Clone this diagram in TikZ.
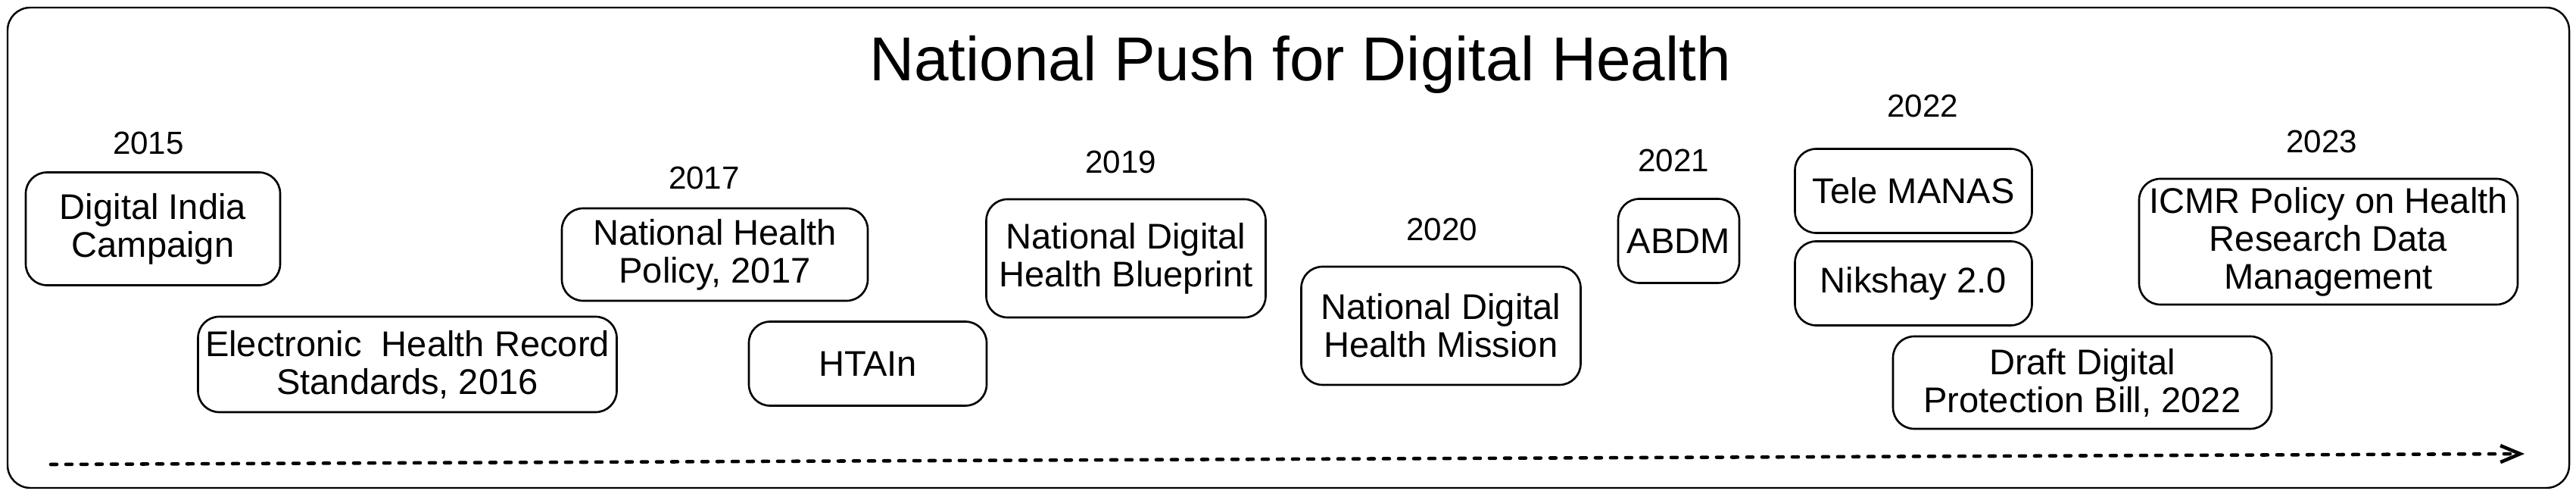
\documentclass[tikz,border=0pt]{standalone}
\usepackage{fontspec}
\setmainfont{Liberation Sans}
\usetikzlibrary{arrows.meta}

\newcommand{\evtfont}{\fontsize{13.4pt}{14.2pt}\selectfont}
\newcommand{\yearfont}{\fontsize{12pt}{14pt}\selectfont}
\newcommand{\titlefont}{\fontsize{23.3pt}{28pt}\selectfont}

\begin{document}
\begin{tikzpicture}[>=latex,
		event/.style={draw, rounded corners=0.28cm, line width=0.75pt, align=center, inner sep=0pt, font=\evtfont},
		year/.style={anchor=base, font=\yearfont},
		timeline/.style={line width=1.3pt, line cap=round, dash pattern=on 0.08cm off 0.12cm,
			-{Straight Barb[length=0.26cm, width=0.22cm, line width=1.3pt]}}]
	\useasboundingbox (0,0) rectangle (34.02,6.55);
	%% ========================================================
	\draw[rounded corners=0.3cm, line width=0.7pt] (0.10,0.11) rectangle (33.93,6.45);
	\node[anchor=base, font=\titlefont] (title) at (17.17,5.48) {National Push for Digital Health};

	%% ========================================================
	\node[year] (y2015) at (1.96,4.51) {2015};
	\node[event, minimum width=3.36cm, minimum height=1.49cm] (dic) at (2.02,3.53) {Digital India\\ Campaign};
	\node[event, minimum width=5.53cm, minimum height=1.26cm] (ehr) at (5.38,1.74) {Electronic\ \ Health Record\\ Standards, 2016};

	\node[year] (y2017) at (9.30,4.05) {2017};
	\node[event, minimum width=4.04cm, minimum height=1.22cm] (nhp) at (9.44,3.19) {National Health\\ Policy, 2017};
	\node[event, minimum width=3.14cm, minimum height=1.11cm] (htain) at (11.46,1.75) {HTAIn};

	\node[year] (y2019) at (14.80,4.26) {2019};
	\node[event, minimum width=3.69cm, minimum height=1.56cm] (ndhb) at (14.87,3.14) {National Digital\\ Health Blueprint};

	\node[year] (y2020) at (19.04,3.37) {2020};
	\node[event, minimum width=3.69cm, minimum height=1.56cm] (ndhm) at (19.03,2.25) {National Digital\\ Health Mission};

	\node[year] (y2021) at (22.10,4.28) {2021};
	\node[event, minimum width=1.60cm, minimum height=1.11cm] (abdm) at (22.17,3.37) {ABDM};

	\node[year] (y2022) at (25.39,5.00) {2022};
	\node[event, minimum width=3.13cm, minimum height=1.11cm] (tele) at (25.27,4.03) {Tele MANAS};
	\node[event, minimum width=3.13cm, minimum height=1.11cm] (nik) at (25.27,2.81) {Nikshay 2.0};
	\node[event, minimum width=5.00cm, minimum height=1.22cm] (dpb) at (27.50,1.50) {Draft Digital\\ Protection Bill, 2022};

	\node[year] (y2023) at (30.66,4.53) {2023};
	\node[event, minimum width=5.00cm, minimum height=1.66cm] (icmr) at (30.75,3.36) {ICMR Policy on Health\\ Research Data\\ Management};

	%% ========================================================
	\coordinate (t0) at (0.67,0.42);
	\coordinate (t1) at (33.34,0.56);
	\draw[timeline] (t0) -- (t1);
\end{tikzpicture}
\end{document}
